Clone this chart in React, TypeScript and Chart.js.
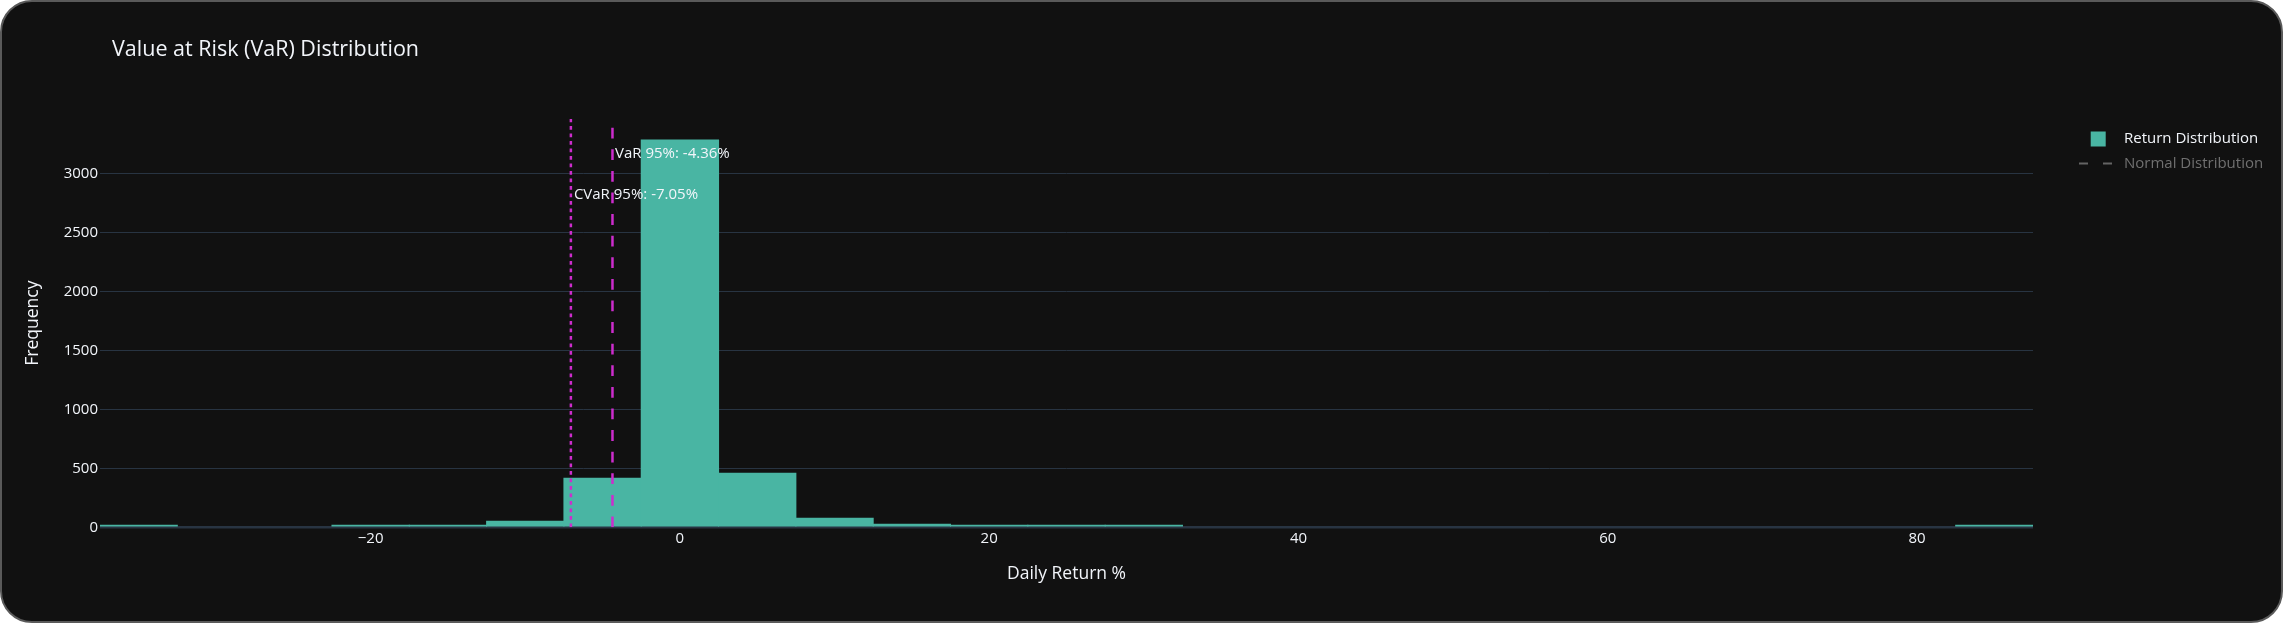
import React, { useEffect, useRef } from 'react';
import { Chart, registerables } from 'chart.js';

Chart.register(...registerables);

// ---- data ----
const BIN_CENTERS = [-35, -30, -25, -20, -15, -10, -5, 0, 5, 10, 15, 20, 25, 30, 35, 40, 45, 50, 55, 60, 65, 70, 75, 80, 85];
const COUNTS: (number | null)[] = [1, null, null, 2, 4, 51, 416, 3289, 458, 76, 25, 7, 3, 2, null, null, null, null, null, null, null, null, null, null, 1];
const X_TICKS = [-20, 0, 20, 40, 60, 80];
const Y_TICKS = [0, 500, 1000, 1500, 2000, 2500, 3000];
const X_RANGE = [-37.5, 87.5];
const Y_MAX = 3467;
const VAR_95 = -4.36;
const CVAR_95 = -7.05;
const VAR_LABEL = 'VaR 95%: -4.36%';
const CVAR_LABEL = 'CVaR 95%: -7.05%';
const TITLE = 'Value at Risk (VaR) Distribution';
const SERIES_NAMES = ['Return Distribution', 'Normal Distribution'];

// ---- styles ----
const FONT = "'Open Sans', 'Noto Sans', sans-serif";
const TEXT = '#f2f5fa';
const GRID = '#283442';
const BAR_COLOR = 'rgb(73,181,163)';
const LINE_COLOR = 'rgb(205,45,205)';
const HIDDEN_TEXT = 'rgb(112,112,112)';
const HIDDEN_LINE = 'rgb(100,100,100)';

const fmtX = (v: number) => (v < 0 ? '\u2212' + Math.abs(v) : String(v));

const overlayPlugin = {
  id: 'overlayText',
  afterDraw(chart: any) {
    const { ctx, chartArea, scales } = chart;
    const xs = scales.x;
    ctx.save();
    // title
    ctx.fillStyle = TEXT;
    ctx.font = `21.5px ${FONT}`;
    ctx.textAlign = 'left';
    ctx.textBaseline = 'middle';
    ctx.fillText(TITLE, 110, 47.5);

    // annotations
    ctx.font = `15px ${FONT}`;
    ctx.fillStyle = TEXT;
    ctx.fillText(VAR_LABEL, xs.getPixelForValue(VAR_95) + 2.5, chartArea.top + 34.3);
    ctx.fillText(CVAR_LABEL, xs.getPixelForValue(CVAR_95) + 3, chartArea.top + 75.3);

    // legend
    const lx = chartArea.right;
    const ds = chart.data.datasets;
    // item 1: bar square
    ctx.fillStyle = ds[0].backgroundColor;
    ctx.fillRect(lx + 57.7, 129.5, 15, 15);
    ctx.fillStyle = TEXT;
    ctx.font = `15px ${FONT}`;
    ctx.fillText(ds[0].label, lx + 91, 137);
    // item 2: hidden dashed line
    ctx.strokeStyle = HIDDEN_LINE;
    ctx.lineWidth = 2;
    ctx.setLineDash([9, 15]);
    ctx.beginPath();
    ctx.moveTo(lx + 46, 161.5);
    ctx.lineTo(lx + 80, 161.5);
    ctx.stroke();
    ctx.setLineDash([]);
    ctx.fillStyle = HIDDEN_TEXT;
    ctx.fillText(ds[1].label, lx + 91, 161.5);
    ctx.restore();
  },
};

export default function App() {
  const ref = useRef<HTMLCanvasElement>(null);

  useEffect(() => {
    if (!ref.current) return;
    const chart = new Chart(ref.current, {
      type: 'bar',
      data: {
        datasets: [
          {
            type: 'bar',
            label: SERIES_NAMES[0],
            data: BIN_CENTERS.map((x, i) => ({ x, y: COUNTS[i] })) as any,
            backgroundColor: BAR_COLOR,
            borderWidth: 0,
            barPercentage: 1,
            categoryPercentage: 1,
            minBarLength: 2,
            inflateAmount: 0.5,
            order: 3,
          } as any,
          {
            type: 'line',
            label: SERIES_NAMES[1],
            data: [],
            hidden: true,
            borderColor: HIDDEN_LINE,
            borderDash: [9, 9],
            pointRadius: 0,
            order: 2,
          } as any,
          {
            type: 'line',
            label: 'CVaR 95%',
            data: [{ x: CVAR_95, y: 0 }, { x: CVAR_95, y: Y_MAX }],
            borderColor: LINE_COLOR,
            borderWidth: 2.5,
            borderDash: [3.75, 3.75],
            pointRadius: 0,
            order: 1,
          } as any,
          {
            type: 'line',
            label: 'VaR 95%',
            data: [{ x: VAR_95, y: 0 }, { x: VAR_95, y: Y_MAX }],
            borderColor: LINE_COLOR,
            borderWidth: 2.5,
            borderDash: [10.8, 10.8],
            pointRadius: 0,
            order: 0,
          } as any,
        ],
      },
      options: {
        responsive: false,
        animation: false,
        devicePixelRatio: 1,
        events: [],
        layout: { padding: { top: 117, right: 248, bottom: 0, left: 0 } },
        plugins: {
          legend: { display: false },
          title: { display: false },
          tooltip: { enabled: false },
        },
        scales: {
          x: {
            type: 'linear',
            min: X_RANGE[0],
            max: X_RANGE[1],
            offset: false,
            afterFit: (s: any) => { s.height = 93.7; },
            afterBuildTicks: (s: any) => { s.ticks = X_TICKS.map((v) => ({ value: v })); },
            grid: { display: false, drawTicks: false, offset: false },
            border: { display: false },
            ticks: {
              padding: 2,
              color: TEXT,
              font: { family: FONT, size: 15 },
              maxRotation: 0,
              autoSkip: false,
              callback: (v: any) => fmtX(Number(v)),
            },
            title: {
              display: true,
              text: 'Daily Return %',
              color: TEXT,
              font: { family: FONT, size: 17.5 },
              padding: { top: 0, bottom: 36.5 },
            },
          },
          y: {
            type: 'linear',
            min: 0,
            max: Y_MAX,
            afterFit: (s: any) => { s.width = 98; },
            afterBuildTicks: (s: any) => { s.ticks = Y_TICKS.map((v) => ({ value: v })); },
            grid: {
              color: GRID,
              lineWidth: (c: any) => (c.tick && c.tick.value === 0 ? 2.5 : 1),
              drawTicks: false,
            },
            border: { display: false },
            ticks: {
              padding: 2,
              color: TEXT,
              font: { family: FONT, size: 15 },
              autoSkip: false,
              callback: (v: any) => String(v),
            },
            title: {
              display: true,
              text: 'Frequency',
              color: TEXT,
              font: { family: FONT, size: 17.5 },
              padding: { top: 20.5, bottom: 0 },
            },
          },
        },
      } as any,
      plugins: [overlayPlugin],
    });
    if ((document as any).fonts && (document as any).fonts.load) {
      Promise.all([
        (document as any).fonts.load(`15px "Open Sans"`),
        (document as any).fonts.load(`21.5px "Open Sans"`),
      ]).then(() => { try { chart.update(); } catch (e) {} }).catch(() => {});
    }
    return () => chart.destroy();
  }, []);

  return (
    <div
      style={{
        position: 'fixed',
        left: 0,
        top: 0,
        width: 2283,
        height: 623,
        boxSizing: 'border-box',
        border: '2px solid #5a5a5a',
        borderRadius: 32,
        background: '#111111',
        overflow: 'hidden',
      }}
    >
      <canvas
        ref={ref}
        width={2279}
        height={619}
        style={{ position: 'absolute', left: 0, top: 0, width: 2279, height: 619 }}
      />
    </div>
  );
}
